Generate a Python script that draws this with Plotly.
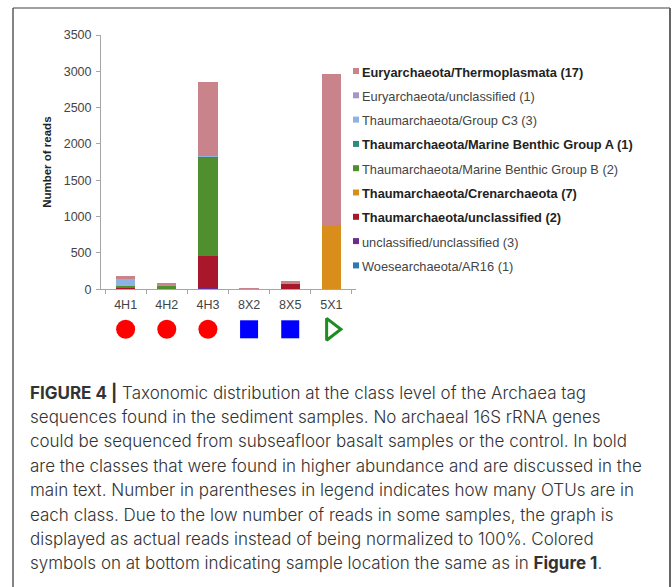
import plotly.graph_objects as go

# Samples and read counts per archaeal class (stacked bottom -> top)
samples = ["4H1", "4H2", "4H3", "8X2", "8X5", "5X1"]

class_names = [
    "Woesearchaeota/AR16 (1)",
    "unclassified/unclassified (3)",
    "Thaumarchaeota/unclassified (2)",
    "Thaumarchaeota/Crenarchaeota (7)",
    "Thaumarchaeota/Marine Benthic Group B (2)",
    "Thaumarchaeota/Marine Benthic Group A (1)",
    "Thaumarchaeota/Group C3 (3)",
    "Euryarchaeota/unclassified (1)",
    "Euryarchaeota/Thermoplasmata (17)",
]
bold_classes = [False, False, True, True, False, True, False, False, True]
class_colors = ["#2A7AB8", "#6B2C91", "#A8172A", "#D98E1C", "#4F8F2E",
                "#2E8A7A", "#8DB3E2", "#A497C8", "#C9838A"]

woese_ar16 = [5, 0, 3, 0, 0, 0]
unclassified_unclassified = [3, 0, 20, 0, 0, 0]
thaum_unclassified = [5, 5, 440, 0, 75, 0]
thaum_crenarchaeota = [0, 0, 0, 0, 0, 890]
thaum_mbg_b = [30, 50, 1350, 0, 0, 0]
thaum_mbg_a = [0, 0, 20, 0, 0, 0]
thaum_group_c3 = [105, 0, 5, 0, 0, 0]
eury_unclassified = [6, 6, 0, 0, 0, 0]
eury_thermoplasmata = [25, 30, 1015, 20, 40, 2075]

series = [woese_ar16, unclassified_unclassified, thaum_unclassified,
          thaum_crenarchaeota, thaum_mbg_b, thaum_mbg_a, thaum_group_c3,
          eury_unclassified, eury_thermoplasmata]

# Sample location symbols
site_symbols = ["circle", "circle", "circle", "square", "square", "triangle-right-open"]
site_colors = ["#FF0000", "#FF0000", "#FF0000", "#0000FF", "#0000FF", "#1E8C1E"]
site_sizes = [19, 19, 19, 18, 18, 19]

y_ticks = [0, 500, 1000, 1500, 2000, 2500, 3000, 3500]

caption_lines = [
    "<b>FIGURE 4 |</b> Taxonomic distribution at the class level of the Archaea tag",
    "sequences found in the sediment samples. No archaeal 16S rRNA genes",
    "could be sequenced from subseafloor basalt samples or the control. In bold",
    "are the classes that were found in higher abundance and are discussed in the",
    "main text. Number in parentheses in legend indicates how many OTUs are in",
    "each class. Due to the low number of reads in some samples, the graph is",
    "displayed as actual reads instead of being normalized to 100%. Colored",
    "symbols on at bottom indicating sample location the same as in <b>Figure 1</b>.",
]

W, H = 672, 587
L, R = 101, 356          # plot area left/right (px)
T, B = 35, 350           # plot area top/bottom (px)
Y0 = 289.3               # pixel row of the value axis baseline

BASE_FONT = "Liberation Sans, Arial, sans-serif"
CAPTION_FONT = "Inter, Liberation Sans, Arial, sans-serif"


def px_x(x):
    return (x - L) / (R - L)


def px_y(y):
    return (B - y) / (B - T)


fig = go.Figure()

for name, vals, col in zip(class_names, series, class_colors):
    fig.add_trace(go.Bar(
        x=samples, y=vals, name=name, marker_color=col,
        marker_line_width=0, showlegend=False,
    ))

fig.add_trace(go.Scatter(
    x=samples, y=[0.35] * len(samples), mode="markers", yaxis="y2",
    marker=dict(symbol=site_symbols, color=site_colors, size=site_sizes, opacity=1,
                line=dict(color=site_colors, width=[0, 0, 0, 0, 0, 3])),
    showlegend=False, hoverinfo="skip",
))

dom_bottom = px_y(Y0)

fig.update_layout(
    width=W, height=H,
    margin=dict(l=L, r=W - R, t=T, b=H - B, pad=0),
    paper_bgcolor="white", plot_bgcolor="white",
    barmode="stack", bargap=0.53,
    font=dict(family=BASE_FONT, color="#444444", size=12),
    xaxis=dict(
        type="category", showline=True, linecolor="#A6A6A6", linewidth=1,
        ticks="outside", tickson="boundaries", ticklen=4, tickcolor="#A6A6A6",
        showgrid=False, tickfont=dict(size=12.5, color="#444444"), anchor="y",
        ticklabelstandoff=4,
    ),
    yaxis=dict(
        domain=[dom_bottom, 1], range=[0, 3500], tickvals=y_ticks,
        showline=True, linecolor="#A6A6A6", linewidth=1,
        ticks="outside", ticklen=4, tickcolor="#A6A6A6", showgrid=False,
        zeroline=False, tickfont=dict(size=12.5, color="#444444"),
        ticklabelstandoff=2,
        title=dict(text="<b>Number of reads</b>", font=dict(size=11.5, color="#222222"),
                   standoff=9),
    ),
    yaxis2=dict(domain=[0, dom_bottom - 0.005], range=[0, 1], visible=False,
                fixedrange=True),
)

# Legend drawn as colour swatches with labels (top entry = top of stack)
shapes = []
annotations = []
order = list(range(len(class_names)))[::-1]
for i, k in enumerate(order):
    cy = 71 + 24.3 * i
    shapes.append(dict(
        type="rect", xref="paper", yref="paper",
        x0=px_x(353), x1=px_x(359), y0=px_y(cy + 3), y1=px_y(cy - 3),
        fillcolor=class_colors[k], line=dict(width=0), layer="above",
    ))
    label = f"<b>{class_names[k]}</b>" if bold_classes[k] else class_names[k]
    annotations.append(dict(
        text=label, xref="paper", yref="paper", x=px_x(359.5), y=px_y(cy + 1),
        xanchor="left", yanchor="middle", showarrow=False,
        font=dict(size=12.8, color="#222222" if bold_classes[k] else "#444444",
                  family=BASE_FONT),
    ))

# Caption block
for i, line in enumerate(caption_lines):
    cy = 392.5 + 24.4 * i
    annotations.append(dict(
        text=line, xref="paper", yref="paper", x=px_x(28), y=px_y(cy),
        xanchor="left", yanchor="middle", showarrow=False,
        font=dict(size=17, color="#333333", family=CAPTION_FONT, weight=300),
    ))

# Outer frame
shapes.append(dict(type="line", xref="paper", yref="paper",
                   x0=px_x(13), x1=px_x(13), y0=px_y(8), y1=px_y(600),
                   line=dict(color="#333333", width=1.2)))
shapes.append(dict(type="line", xref="paper", yref="paper",
                   x0=px_x(13), x1=px_x(670), y0=px_y(8), y1=px_y(8),
                   line=dict(color="#444444", width=1.2)))
shapes.append(dict(type="line", xref="paper", yref="paper",
                   x0=px_x(670), x1=px_x(670), y0=px_y(8), y1=px_y(600),
                   line=dict(color="#666666", width=2)))

fig.update_layout(shapes=shapes, annotations=annotations)

fig.write_html("out.html")
